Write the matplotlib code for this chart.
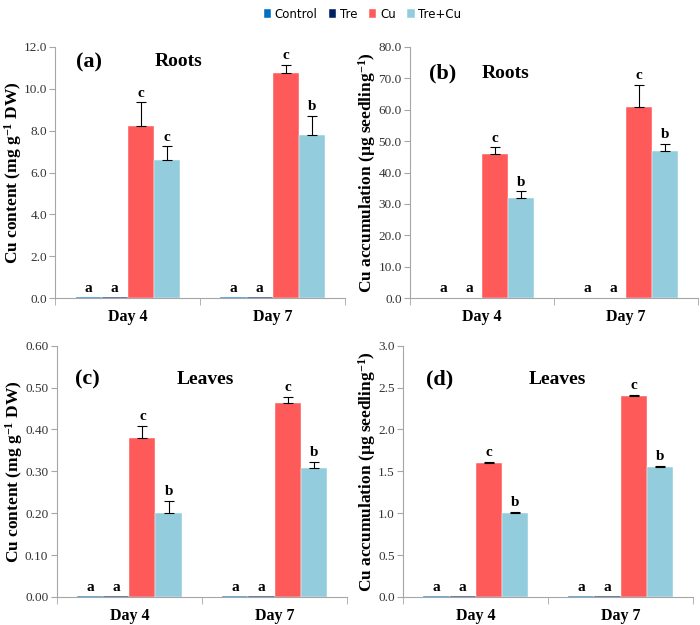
import numpy as np
import matplotlib
matplotlib.use('Agg')
import matplotlib.pyplot as plt

# datos
dias = ['Day 4', 'Day 7']
tratamientos = ['Control', 'Tre', 'Cu', 'Tre+Cu']
colores = ['#0070C0', '#002060', '#FF5A5A', '#93CDDD']

# (a) raíces, contenido
a_control = [0.03, 0.03]
a_tre = [0.03, 0.03]
a_cu = [8.2, 10.75]
a_trecu = [6.6, 7.8]
a_err_cu = [1.15, 0.4]
a_err_trecu = [0.65, 0.9]
a_letras = [['a', 'a', 'c', 'c'], ['a', 'a', 'c', 'b']]

# (b) raíces, acumulación
b_control = [0.05, 0.05]
b_tre = [0.05, 0.05]
b_cu = [46.0, 61.0]
b_trecu = [32.0, 47.0]
b_err_cu = [2.0, 7.0]
b_err_trecu = [2.0, 2.0]
b_letras = [['a', 'a', 'c', 'b'], ['a', 'a', 'c', 'b']]

# (c) hojas, contenido
c_control = [0.001, 0.001]
c_tre = [0.001, 0.001]
c_cu = [0.38, 0.462]
c_trecu = [0.20, 0.307]
c_err_cu = [0.028, 0.016]
c_err_trecu = [0.03, 0.015]
c_letras = [['a', 'a', 'c', 'b'], ['a', 'a', 'c', 'b']]

# (d) hojas, acumulación
d_control = [0.005, 0.005]
d_tre = [0.005, 0.005]
d_cu = [1.6, 2.4]
d_trecu = [1.0, 1.55]
d_err_cu = [0.015, 0.015]
d_err_trecu = [0.015, 0.015]
d_letras = [['a', 'a', 'c', 'b'], ['a', 'a', 'c', 'b']]

serif = 'Liberation Serif'
gris = '#A6A6A6'

# superíndices en la misma fuente serif
plt.rcParams['mathtext.fontset'] = 'custom'
plt.rcParams['mathtext.rm'] = 'Liberation Serif'
plt.rcParams['mathtext.bf'] = 'Liberation Serif:bold'
plt.rcParams['mathtext.it'] = 'Liberation Serif:italic'

fig = plt.figure(figsize=(7, 6.25), dpi=100)

etiq_cont = 'Cu content (mg g$^{\\mathbf{-1}}$ DW)'
etiq_acum = 'Cu accumulation (µg seedling$^{\\mathbf{-1}}$)'

paneles = [
    ([0.079, 0.523, 0.414, 0.402], [a_control, a_tre, a_cu, a_trecu], [a_err_cu, a_err_trecu], a_letras,
     12.0, 2.0, '{:.1f}', etiq_cont, '(a)', 'Roots', (0.117, 0.936), (0.424, 0.94)),
    ([0.586, 0.523, 0.411, 0.402], [b_control, b_tre, b_cu, b_trecu], [b_err_cu, b_err_trecu], b_letras,
     80.0, 10.0, '{:.1f}', etiq_acum, '(b)', 'Roots', (0.113, 0.896), (0.333, 0.896)),
    ([0.081, 0.045, 0.415, 0.402], [c_control, c_tre, c_cu, c_trecu], [c_err_cu, c_err_trecu], c_letras,
     0.60, 0.10, '{:.2f}', etiq_cont, '(c)', 'Leaves', (0.105, 0.865), (0.51, 0.865)),
    ([0.576, 0.045, 0.414, 0.402], [d_control, d_tre, d_cu, d_trecu], [d_err_cu, d_err_trecu], d_letras,
     3.0, 0.5, '{:.1f}', etiq_acum, '(d)', 'Leaves', (0.124, 0.865), (0.533, 0.865)),
]

x = np.arange(len(dias))
w = 0.18
offsets = [-1.5 * w, -0.5 * w, 0.5 * w, 1.5 * w]

barras = []
for pos, series, errores, letras, ymax, paso, fmt, ylab, etiq, titulo, p_etiq, p_tit in paneles:
    ax = fig.add_axes(pos)
    barras = []
    for k, (serie, off) in enumerate(zip(series, offsets)):
        yerr = None
        if k >= 2:
            yerr = [np.zeros(len(dias)), errores[k - 2]]
        b = ax.bar(x + off, serie, w, color=colores[k], edgecolor='white', linewidth=0.3,
                   yerr=yerr, capsize=3.5, error_kw=dict(ecolor='black', elinewidth=0.8, capthick=0.8),
                   label=tratamientos[k])
        barras.append(b)
        for i in range(len(dias)):
            tope = serie[i] + (errores[k - 2][i] if k >= 2 else 0)
            ax.annotate(letras[i][k], (x[i] + off, tope), xytext=(0, 2), textcoords='offset points',
                        ha='center', va='bottom', fontsize=11, fontweight='bold', family=serif)

    ax.set_xlim(-0.5, 1.5)
    ax.set_ylim(0, ymax)
    ticks = np.arange(0, ymax + paso / 2, paso)
    ax.set_yticks(ticks)
    ax.set_yticklabels([fmt.format(t) for t in ticks], family=serif, fontsize=9.5, color='#333333')
    ax.set_xticks(x)
    ax.set_xticklabels(dias, family=serif, fontsize=11.5, fontweight='bold')
    ax.set_xticks([-0.5, 0.5, 1.5], minor=True)
    ax.tick_params(axis='x', which='major', length=0, pad=8)
    ax.tick_params(axis='x', which='minor', length=5, color=gris)
    ax.tick_params(axis='y', length=4, color=gris, pad=2)
    for lado in ['top', 'right']:
        ax.spines[lado].set_visible(False)
    for lado in ['left', 'bottom']:
        ax.spines[lado].set_color(gris)
        ax.spines[lado].set_linewidth(0.8)
    ax.set_ylabel(ylab, family=serif, fontsize=12.5, fontweight='bold', labelpad=0)
    ax.text(p_etiq[0], p_etiq[1], etiq, transform=ax.transAxes, ha='center', va='center',
            family=serif, fontsize=16, fontweight='bold')
    ax.text(p_tit[0], p_tit[1], titulo, transform=ax.transAxes, ha='center', va='center',
            family=serif, fontsize=14, fontweight='bold')

fig.legend(barras, tratamientos, loc='upper center', bbox_to_anchor=(0.518, 1.005), ncol=4,
           frameon=False, fontsize=8.5, handlelength=0.6, handleheight=0.8, handletextpad=0.3,
           columnspacing=1.0)

fig.savefig('out.png', dpi=100)
